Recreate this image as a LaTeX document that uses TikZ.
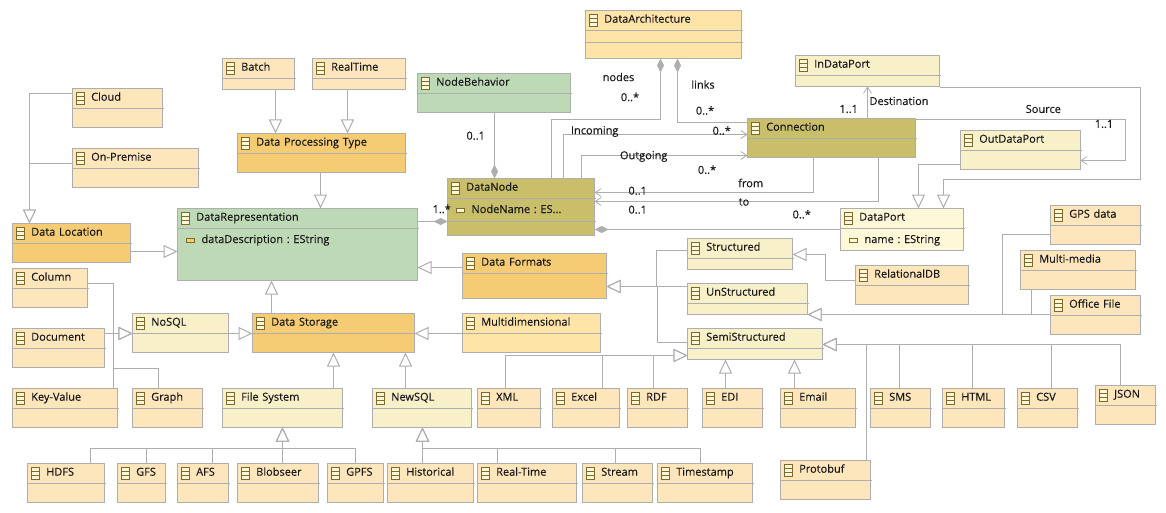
\documentclass[tikz,border=0pt]{standalone}
\usepackage{fontspec}
\setmainfont[RawFeature={embolden=0.25}]{Open Sans}
\usetikzlibrary{arrows.meta}
\definecolor{edge}{HTML}{AEAEAE}
\definecolor{iconline}{HTML}{7F6A2C}
\definecolor{cpale}{HTML}{FDE6BC}
\definecolor{cmid}{HTML}{FFE4A8}
\definecolor{cdark}{HTML}{F5CB74}
\definecolor{cgreen}{HTML}{BDD9B6}
\definecolor{cyellow}{HTML}{F8F0C8}
\definecolor{colive}{HTML}{C9BE6A}
\definecolor{cport}{HTML}{FFF8D8}
\tikzset{
  umlnode/.style={draw=edge,line width=1pt,anchor=north west,inner sep=0pt,outer sep=0pt,
    align=left,font=\fontsize{11}{22.3}\selectfont\frenchspacing,text=black!90},
  wire/.style={draw=edge,line width=1pt},
  gen/.style={wire,-{Triangle[length=14pt,width=13pt,fill=white,line width=1pt]}},
  ref/.style={wire,-{Straight Barb[length=6pt,width=8pt,line width=.8pt]}},
  comp/.style={wire,{Diamond[length=14pt,width=7pt,fill=edge,line width=0pt]}-},
  lbl/.style={font=\fontsize{11}{12}\selectfont,inner sep=0pt,text=black!90},
  cicon/.style={draw=iconline,line width=.9pt,fill=cport},
  aicon/.style={draw=iconline,line width=.9pt}
}
% A class box: fill, name, left, top, right, bottom, compartment line, text
\newcommand{\umlbox}[8]{%
  \pgfmathsetmacro{\bw}{#5-#3}\pgfmathsetmacro{\bh}{#6-#4}\pgfmathsetmacro{\bd}{#6-#4-12.2}%
  \pgfmathsetmacro{\ix}{#3+3.5}\pgfmathsetmacro{\iy}{#4+4}%
  \pgfmathsetmacro{\jx}{#3+12}\pgfmathsetmacro{\jy}{#4+16}%
  \pgfmathsetmacro{\ka}{#4+8}\pgfmathsetmacro{\kb}{#4+12}\pgfmathsetmacro{\sx}{#5+1}%
  \node[umlnode,fill=#1,text width=\bw pt,minimum height=\bh pt,text height=12.2pt,text depth=\bd pt] (#2) at (#3,#4) {#8};
  \draw[wire] (#2.west |- 0,#7) -- (\sx,#7);
  \path[cicon] (\ix,\iy) rectangle (\jx,\jy);
  \draw[iconline,line width=.9pt] (\ix,\ka) -- (\jx,\ka) (\ix,\kb) -- (\jx,\kb);
}
\newcommand{\ttl}[1]{\hspace*{18.7pt}#1}
\newcommand{\atr}[1]{\\\hspace*{24pt}#1}
\newcommand{\umlattr}[3]{\pgfmathsetmacro{\ix}{#1+8.5}\pgfmathsetmacro{\iy}{#2+30}%
  \pgfmathsetmacro{\jx}{#1+17}\pgfmathsetmacro{\jy}{#2+34}%
  \path[aicon,fill=#3] (\ix,\iy) rectangle (\jx,\jy);}
\begin{document}
\begin{tikzpicture}[x=1pt,y=-1pt]
\useasboundingbox[fill=white] (0,0) rectangle (1166,513);

% Classes
\umlbox{cpale}{cloud}{72.5}{88.5}{162.5}{127.5}{108.5}{\ttl{Cloud}}
\umlbox{cpale}{onprem}{72.5}{148.5}{198.5}{187.5}{168.5}{\ttl{On-Premise}}
\umlbox{cpale}{batch}{222.5}{58.5}{294.5}{89.5}{78.5}{\ttl{Batch}}
\umlbox{cpale}{rtime}{312.5}{58.5}{405.5}{89.5}{78.5}{\ttl{RealTime}}
\umlbox{cdark}{dpt}{237.5}{133.5}{405.5}{172.5}{153.5}{\ttl{Data Processing Type}}
\umlbox{cgreen}{drep}{177.5}{208.5}{417.5}{280.5}{228.5}{\ttl{DataRepresentation}\atr{dataDescription : EString}}
\umlattr{177.5}{208.5}{cdark}
\umlbox{cdark}{dloc}{12.5}{223.5}{130.5}{262.5}{243.5}{\ttl{Data Location}}
\umlbox{cpale}{column}{12.5}{268.5}{87.5}{307.5}{288.5}{\ttl{Column}}
\umlbox{cpale}{document}{12.5}{328.5}{104.5}{367.5}{348.5}{\ttl{Document}}
\umlbox{cpale}{keyvalue}{12.5}{388.5}{117.5}{427.5}{408.5}{\ttl{Key-Value}}
\umlbox{cpale}{graph}{132.5}{388.5}{202.5}{427.5}{408.5}{\ttl{Graph}}
\umlbox{cyellow}{nosql}{132.5}{313.5}{228.5}{352.5}{333.5}{\ttl{NoSQL}}
\umlbox{cdark}{dstore}{252.5}{313.5}{414.5}{352.5}{333.5}{\ttl{Data Storage}}
\umlbox{cyellow}{fsys}{222.5}{388.5}{342.5}{427.5}{408.5}{\ttl{File System}}
\umlbox{cyellow}{newsql}{372.5}{388.5}{471.5}{427.5}{408.5}{\ttl{NewSQL}}
\umlbox{cpale}{hdfs}{27.5}{463.5}{104.5}{502.5}{483.5}{\ttl{HDFS}}
\umlbox{cpale}{gfs}{117.5}{463.5}{165.5}{502.5}{483.5}{\ttl{GFS}}
\umlbox{cpale}{afs}{177.5}{463.5}{228.5}{502.5}{483.5}{\ttl{AFS}}
\umlbox{cpale}{blobseer}{237.5}{463.5}{318.5}{502.5}{483.5}{\ttl{Blobseer}}
\umlbox{cpale}{gpfs}{327.5}{463.5}{383.5}{502.5}{483.5}{\ttl{GPFS}}
\umlbox{cpale}{historical}{387.5}{463.5}{473.5}{502.5}{483.5}{\ttl{Historical}}
\umlbox{cpale}{realt}{477.5}{463.5}{576.5}{502.5}{483.5}{\ttl{Real-Time}}
\umlbox{cpale}{stream}{582.5}{463.5}{652.5}{502.5}{483.5}{\ttl{Stream}}
\umlbox{cpale}{timestamp}{657.5}{463.5}{752.5}{502.5}{483.5}{\ttl{Timestamp}}
\umlbox{cpale}{xml}{477.5}{388.5}{540.5}{427.5}{408.5}{\ttl{XML}}
\umlbox{cpale}{excel}{552.5}{388.5}{619.5}{427.5}{408.5}{\ttl{Excel}}
\umlbox{cpale}{rdf}{627.5}{388.5}{687.5}{427.5}{408.5}{\ttl{RDF}}
\umlbox{cpale}{edi}{702.5}{388.5}{762.5}{427.5}{408.5}{\ttl{EDI}}
\umlbox{cpale}{email}{780.5}{388.5}{855.5}{427.5}{408.5}{\ttl{Email}}
\umlbox{cpale}{protobuf}{780.5}{460.5}{870.5}{499.5}{480.5}{\ttl{Protobuf}}
\umlbox{cdark}{dformats}{462.5}{253.5}{606.5}{298.5}{273.5}{\ttl{Data Formats}}
\umlbox{cmid}{multidim}{462.5}{313.5}{600.5}{352.5}{333.5}{\ttl{Multidimensional}}
\umlbox{cyellow}{structured}{687.5}{238.5}{792.5}{269.5}{258.5}{\ttl{Structured}}
\umlbox{cyellow}{unstruct}{687.5}{283.5}{807.5}{314.5}{303.5}{\ttl{UnStructured}}
\umlbox{cyellow}{semi}{687.5}{328.5}{822.5}{359.5}{348.5}{\ttl{SemiStructured}}
\umlbox{cpale}{sms}{870.5}{388.5}{930.5}{427.5}{408.5}{\ttl{SMS}}
\umlbox{cpale}{html}{942.5}{388.5}{1004.5}{427.5}{408.5}{\ttl{HTML}}
\umlbox{cpale}{csv}{1017.5}{388.5}{1077.5}{427.5}{408.5}{\ttl{CSV}}
\umlbox{cpale}{json}{1095.5}{385.5}{1155.5}{424.5}{405.5}{\ttl{JSON}}
\umlbox{cyellow}{inport}{795.5}{55.5}{939.5}{86.5}{75.5}{\ttl{InDataPort}}
\umlbox{cyellow}{outport}{960.5}{130.5}{1080.5}{169.5}{150.5}{\ttl{OutDataPort}}
\umlbox{cport}{dport}{840.5}{208.5}{963.5}{250.5}{228.5}{\ttl{DataPort}\atr{name : EString}}
\umlattr{840.5}{208.5}{cport}
\umlbox{cpale}{reldb}{855.5}{265.5}{968.5}{304.5}{285.5}{\ttl{RelationalDB}}
\umlbox{cpale}{gps}{1050.5}{205.5}{1140.5}{244.5}{225.5}{\ttl{GPS data}}
\umlbox{cpale}{multimedia}{1020.5}{250.5}{1135.5}{289.5}{270.5}{\ttl{Multi-media}}
\umlbox{cpale}{office}{1050.5}{295.5}{1140.5}{334.5}{315.5}{\ttl{Office File}}
\umlbox{colive}{connection}{747.5}{118.5}{915.5}{157.5}{138.5}{\ttl{Connection}}
\umlbox{cmid}{darch}{585.5}{10.5}{741.5}{58.5}{30.5}{\ttl{DataArchitecture}}
\draw[wire] (darch.west |- 0,42.5) -- (742.5,42.5);
\umlbox{cgreen}{nbehav}{417.5}{73.5}{570.5}{112.5}{93.5}{\ttl{NodeBehavior}}
\umlbox{colive}{dnode}{447.5}{178.5}{594.5}{235.5}{198.5}{\ttl{DataNode}\atr{NodeName : ES...}}
\draw[wire] (dnode.west |- 0,221.5) -- (595.5,221.5);
\umlattr{447.5}{178.5}{cport}

% Generalisations
\draw[gen] (cloud.west |- 0,93.5) -- (29.5,93.5) -- (dloc.north -| 29.5,0);
\draw[gen] (onprem.west |- 0,163.5) -- (29.5,163.5) -- (dloc.north -| 29.5,0);
\draw[gen] (dloc.east |- 0,251.5) -- (drep.west |- 0,251.5);
\draw[gen] (batch.south -| 275.5,0) -- (dpt.north -| 275.5,0);
\draw[gen] (rtime.south -| 347.5,0) -- (dpt.north -| 347.5,0);
\draw[gen] (dpt.south -| 320.5,0) -- (drep.north -| 320.5,0);
\draw[gen] (dformats.west |- 0,267.5) -- (drep.east |- 0,267.5);
\draw[gen] (dstore.north -| 271.5,0) -- (drep.south -| 271.5,0);
\draw[gen] (nosql.east |- 0,333.5) -- (dstore.west |- 0,333.5);
\draw[gen] (column.east |- 0,283.5) -- (113.5,283.5) -- (113.5,333.5) -- (nosql.west |- 0,333.5);
\draw[gen] (document.east |- 0,333.5) -- (nosql.west |- 0,333.5);
\draw[gen] (keyvalue.north -| 113.5,0) -- (113.5,333.5) -- (nosql.west |- 0,333.5);
\draw[gen] (graph.north -| 158.5,0) -- (158.5,368.5) -- (113.5,368.5) -- (113.5,333.5) -- (nosql.west |- 0,333.5);
\draw[gen] (fsys.north -| 333.5,0) -- (dstore.south -| 333.5,0);
\draw[gen] (newsql.north -| 405.5,0) -- (dstore.south -| 405.5,0);
\draw[gen] (multidim.west |- 0,333.5) -- (dstore.east |- 0,333.5);
\draw[gen] (hdfs.north -| 90.5,0) -- (90.5,448.5) -- (282.5,448.5) -- (fsys.south -| 282.5,0);
\draw[gen] (gfs.north -| 146.5,0) -- (146.5,448.5) -- (282.5,448.5) -- (fsys.south -| 282.5,0);
\draw[gen] (afs.north -| 212.5,0) -- (212.5,448.5) -- (282.5,448.5) -- (fsys.south -| 282.5,0);
\draw[gen] (blobseer.north -| 282.5,0) -- (fsys.south -| 282.5,0);
\draw[gen] (gpfs.north -| 355.5,0) -- (355.5,448.5) -- (282.5,448.5) -- (fsys.south -| 282.5,0);
\draw[gen] (historical.north -| 422.5,0) -- (newsql.south -| 422.5,0);
\draw[gen] (realt.north -| 497.5,0) -- (497.5,448.5) -- (422.5,448.5) -- (newsql.south -| 422.5,0);
\draw[gen] (stream.north -| 615.5,0) -- (615.5,448.5) -- (422.5,448.5) -- (newsql.south -| 422.5,0);
\draw[gen] (timestamp.north -| 700.5,0) -- (700.5,448.5) -- (422.5,448.5) -- (newsql.south -| 422.5,0);
\draw[gen] (structured.west |- 0,250.5) -- (656.5,250.5) -- (656.5,286.5) -- (dformats.east |- 0,286.5);
\draw[gen] (unstruct.west |- 0,286.5) -- (dformats.east |- 0,286.5);
\draw[gen] (semi.west |- 0,342.5) -- (657.5,342.5) -- (657.5,286.5) -- (dformats.east |- 0,286.5);
\draw[gen] (reldb.west |- 0,280.5) -- (825.5,280.5) -- (825.5,254.5) -- (structured.east |- 0,254.5);
\draw[gen] (gps.west |- 0,234.5) -- (1002.5,234.5) -- (1002.5,314.5) -- (unstruct.east |- 0,314.5);
\draw[gen] (multimedia.south -| 1031.5,0) -- (1031.5,314.5) -- (unstruct.east |- 0,314.5);
\draw[gen] (office.west |- 0,314.5) -- (unstruct.east |- 0,314.5);
\draw[gen] (xml.north -| 505.5,0) -- (505.5,355.5) -- (semi.west |- 0,355.5);
\draw[gen] (excel.north -| 602.5,0) -- (602.5,355.5) -- (semi.west |- 0,355.5);
\draw[gen] (rdf.north -| 653.5,0) -- (653.5,355.5) -- (semi.west |- 0,355.5);
\draw[gen] (edi.north -| 725.5,0) -- (semi.south -| 725.5,0);
\draw[gen] (email.north -| 794.5,0) -- (semi.south -| 794.5,0);
\draw[gen] (protobuf.north -| 866.5,0) -- (866.5,344.5) -- (semi.east |- 0,344.5);
\draw[gen] (sms.north -| 899.5,0) -- (899.5,344.5) -- (semi.east |- 0,344.5);
\draw[gen] (html.north -| 972.5,0) -- (972.5,344.5) -- (semi.east |- 0,344.5);
\draw[gen] (csv.north -| 1051.5,0) -- (1051.5,344.5) -- (semi.east |- 0,344.5);
\draw[gen] (json.north -| 1120.5,0) -- (1120.5,344.5) -- (semi.east |- 0,344.5);
\draw[gen] (outport.west |- 0,164.5) -- (918.5,164.5) -- (dport.north -| 918.5,0);
\draw[gen] (inport.east |- 0,87.5) -- (1140.5,87.5) -- (1140.5,179.5) -- (943.5,179.5) -- (dport.north -| 943.5,0);

% Compositions
\draw[comp] (dnode.north -| 494.5,0) -- (nbehav.south -| 494.5,0);
\draw[comp] (dnode.west |- 0,221.5) -- (drep.east |- 0,221.5);
\draw[comp] (dnode.east |- 0,229.5) -- (dport.west |- 0,229.5);
\draw[comp] (darch.south -| 660.5,0) -- (660.5,119.5) -- (551.5,119.5) -- (dnode.north -| 551.5,0);
\draw[comp] (darch.south -| 677.5,0) -- (677.5,122.5) -- (connection.west |- 0,122.5);

% Directed references
\draw[ref] (dnode.north -| 563.5,0) -- (563.5,134.5) -- (connection.west |- 0,134.5);
\draw[ref] (dnode.north -| 581.5,0) -- (581.5,155.5) -- (connection.west |- 0,155.5);
\draw[ref] (connection.south -| 813.5,0) -- (813.5,192.5) -- (dnode.east |- 0,192.5);
\draw[ref] (connection.south -| 878.5,0) -- (878.5,201.5) -- (dnode.east |- 0,201.5);
\draw[ref] (connection.north -| 867.5,0) -- (inport.south -| 867.5,0);
\draw[ref] (connection.east |- 0,119.5) -- (1125.5,119.5) -- (1125.5,160.5) -- (outport.east |- 0,160.5);

% Role names and multiplicities
\node[lbl] (l1) at (618.5,77) {nodes};
\node[lbl] (l2) at (630,97) {0..*};
\node[lbl] (l3) at (703,84.5) {links};
\node[lbl] (l4) at (705,110.5) {0..*};
\node[lbl] (l5) at (594.7,131.5) {Incoming};
\node[lbl] (l6) at (721.7,130.6) {0..*};
\node[lbl] (l7) at (643.7,156.5) {Outgoing};
\node[lbl] (l8) at (707,169.7) {0..*};
\node[lbl] (l9) at (750.7,183) {from};
\node[lbl] (l10) at (637.7,190.7) {0..1};
\node[lbl] (l11) at (637.7,209.7) {0..1};
\node[lbl] (l12) at (744,202) {to};
\node[lbl] (l13) at (801.7,214.3) {0..*};
\node[lbl] (l14) at (441.7,209) {1..*};
\node[lbl] (l15) at (475.7,135.7) {0..1};
\node[lbl] (l16) at (899,101) {Destination};
\node[lbl] (l17) at (848.7,109) {1..1};
\node[lbl] (l18) at (1043.3,109) {Source};
\node[lbl] (l19) at (1104,124) {1..1};
\end{tikzpicture}
\end{document}
